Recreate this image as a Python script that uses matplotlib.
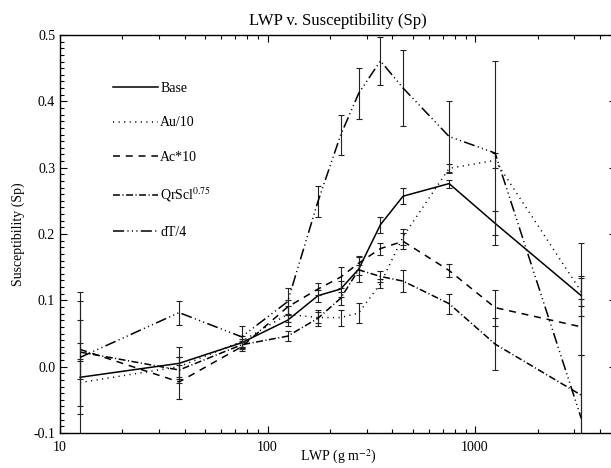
import matplotlib

matplotlib.use("Agg")

import matplotlib.pyplot as plt
from matplotlib.ticker import FixedLocator, FuncFormatter, LogLocator, MultipleLocator, NullFormatter

# LWP bin centres (g m-2)
lwp = [12.5, 37.5, 75, 125, 175, 225, 275, 350, 450, 750, 1250, 3250]

base = [-0.016, 0.005, 0.036, 0.070, 0.107, 0.117, 0.147, 0.214, 0.257, 0.276, 0.216, 0.107]
base_err = [0.129, 0.024, 0.006, 0.008, 0.009, 0.012, 0.020, 0.012, 0.012, 0.006, 0.018, 0.030]

au10 = [-0.024, 0.000, 0.038, 0.079, 0.074, 0.074, 0.081, 0.125, 0.196, 0.299, 0.311, 0.113]
au10_err = [0.035, 0.015, 0.008, 0.012, 0.008, 0.012, 0.015, 0.007, 0.012, 0.007, 0.011, 0.021]

ac10 = [0.026, -0.023, 0.030, 0.090, 0.117, 0.135, 0.156, 0.178, 0.189, 0.145, 0.089, 0.060]
ac10_err = [0.044, 0.025, 0.007, 0.010, 0.009, 0.016, 0.010, 0.009, 0.012, 0.010, 0.027, 0.042]

qrscl = [0.022, -0.005, 0.033, 0.046, 0.073, 0.103, 0.146, 0.136, 0.129, 0.095, 0.034, -0.043]
qrscl_err = [0.013, 0.020, 0.006, 0.008, 0.012, 0.010, 0.008, 0.008, 0.017, 0.015, 0.039, 0.060]

dt4 = [0.014, 0.0815, 0.045, 0.098, 0.249, 0.349, 0.412, 0.461, 0.420, 0.347, 0.322, -0.078]
dt4_err = [0.085, 0.018, 0.017, 0.020, 0.024, 0.030, 0.038, 0.036, 0.057, 0.053, 0.139, 0.264]

labels = ["Base", "Au/10", "Ac*10", "QrScl$^{0.75}$", "dT/4"]
y_ticks = [-0.1, 0.0, 0.1, 0.2, 0.3, 0.4, 0.5]
x_ticks = [10, 100, 1000]

plt.rcParams["font.family"] = ["Liberation Serif", "DejaVu Serif"]
plt.rcParams["mathtext.fontset"] = "stix"
plt.rcParams["lines.scale_dashes"] = False
plt.rcParams["axes.unicode_minus"] = False

# IDL style line patterns (points)
styles = [
    "-",
    (0, (0.8, 3.2)),
    (0, (5.0, 4.2)),
    (0, (5.0, 1.8, 0.8, 1.8)),
    (0, (8.0, 2.4, 0.8, 2.4, 0.8, 2.4, 0.8, 2.4)),
]

series = [
    (base, base_err),
    (au10, au10_err),
    (ac10, ac10_err),
    (qrscl, qrscl_err),
    (dt4, dt4_err),
]

fig = plt.figure(figsize=(6.11, 4.68), dpi=100)
# right edge of the axes sits just past the image edge, as in the original
ax = fig.add_axes([60 / 611, 35 / 468, 556.4 / 611, 398 / 468])

for (vals, errs), style, label in zip(series, styles, labels):
    ax.errorbar(lwp, vals, yerr=errs, fmt="none", ecolor="#222222",
                elinewidth=0.8, capsize=2.0, capthick=0.8)
    ax.plot(lwp, vals, color="black", linestyle=style, linewidth=1.1,
            label=label, dash_capstyle="butt")

ax.set_xscale("log")
ax.set_xlim(10, 4800)
ax.set_ylim(-0.1, 0.5)

ax.xaxis.set_major_locator(FixedLocator(x_ticks))
ax.xaxis.set_major_formatter(FuncFormatter(lambda v, _: f"{v:.0f}"))
ax.xaxis.set_minor_locator(LogLocator(base=10, subs=range(2, 10)))
ax.xaxis.set_minor_formatter(NullFormatter())
ax.yaxis.set_major_locator(FixedLocator(y_ticks))
ax.yaxis.set_major_formatter(FuncFormatter(lambda v, _: f"{v:.1f}"))
ax.yaxis.set_minor_locator(MultipleLocator(0.01))

ax.tick_params(which="both", direction="in", top=True, right=True,
               width=0.8, labelsize=10)
ax.tick_params(which="major", length=5)
ax.tick_params(which="minor", length=2.8)
ax.tick_params(axis="y", pad=3.5)
ax.tick_params(axis="x", pad=5.5)
for spine in ax.spines.values():
    spine.set_linewidth(1.0)

ax.set_title("LWP v. Susceptibility (Sp)", fontsize=12, pad=7)
ax.set_xlabel("LWP (g m$^{-2}$)", fontsize=10, labelpad=-4)
ax.set_ylabel("Susceptibility (Sp)", fontsize=10, labelpad=6)

ax.legend(loc="upper left", bbox_to_anchor=(0.095, 0.882), frameon=False,
          fontsize=10, handlelength=3.25, handletextpad=0.15,
          labelspacing=1.55, borderpad=0, borderaxespad=0)

fig.savefig("out.png", dpi=100)
